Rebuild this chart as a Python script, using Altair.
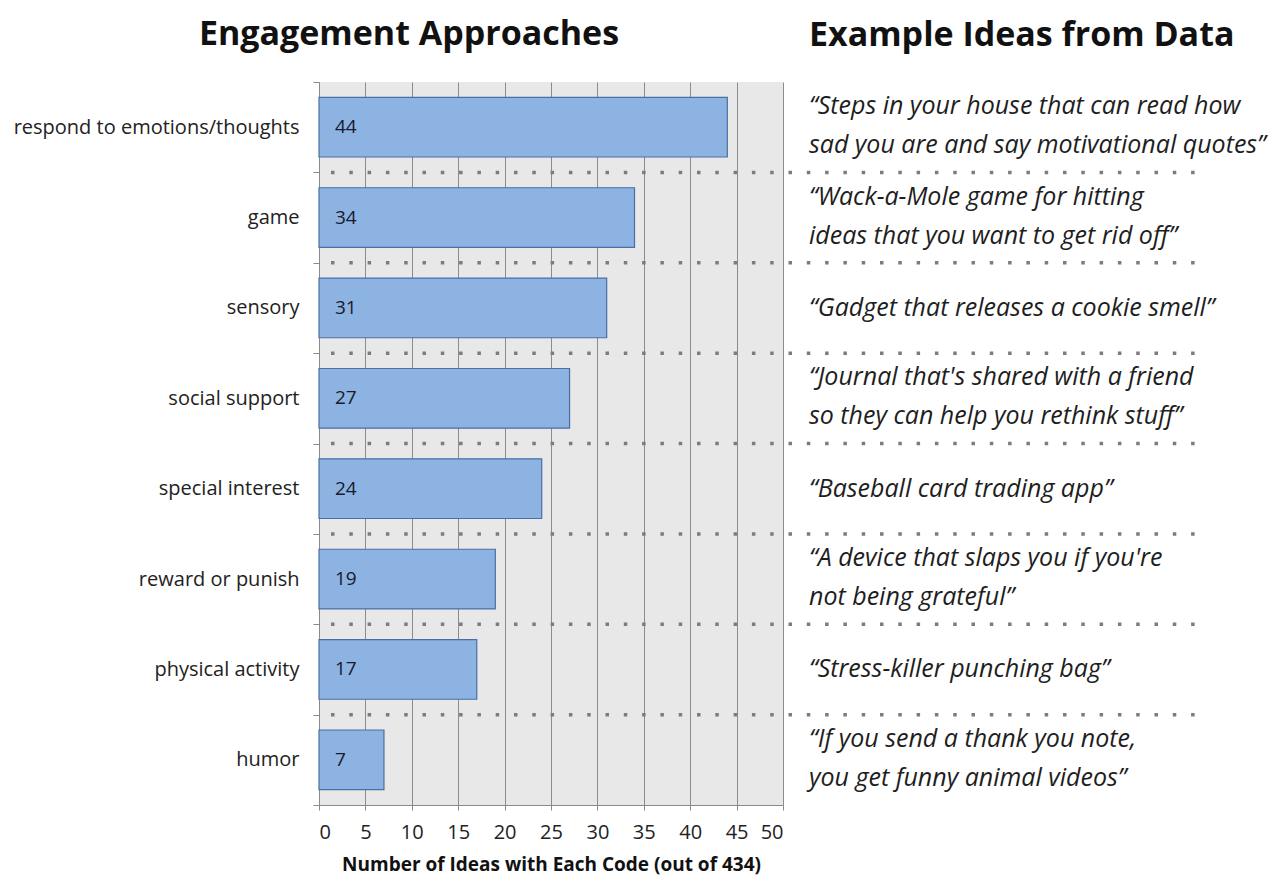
import altair as alt
import pandas as pd

categories = [
    "respond to emotions/thoughts",
    "game",
    "sensory",
    "social support",
    "special interest",
    "reward or punish",
    "physical activity",
    "humor",
]
counts = [44, 34, 31, 27, 24, 19, 17, 7]
quotes = [
    "\u201cSteps in your house that can read how\nsad you are and say motivational quotes\u201d",
    "\u201cWack-a-Mole game for hitting\nideas that you want to get rid off\u201d",
    "\u201cGadget that releases a cookie smell\u201d",
    "\u201cJournal that's shared with a friend\nso they can help you rethink stuff\u201d",
    "\u201cBaseball card trading app\u201d",
    "\u201cA device that slaps you if you're\nnot being grateful\u201d",
    "\u201cStress-killer punching bag\u201d",
    "\u201cIf you send a thank you note,\nyou get funny animal videos\u201d",
]
x_ticks = [0, 5, 10, 15, 20, 25, 30, 35, 40, 45, 50]

FONT = "Open Sans"
df = pd.DataFrame({"cat": categories, "count": counts, "quote": quotes})
df["nlines"] = df["quote"].str.count("\n") + 1
sep = pd.DataFrame({"cat": categories[1:]})

yscale = alt.Scale(domain=categories, paddingInner=0, paddingOuter=0)

y_axis = alt.Axis(
    title=None, labelFontSize=20, labelColor="#222222", labelFont=FONT,
    labelPadding=14, tickSize=6, tickColor="#8a8a8a", domainColor="#8a8a8a",
    tickBand="extent", grid=False, labelLimit=400,
)
x_axis = alt.Axis(
    values=x_ticks, title="Number of Ideas with Each Code (out of 434)",
    titleFontSize=19, titleFontWeight="bold", titleFont=FONT, titleColor="#111111",
    titlePadding=13, labelFontSize=20, labelFont=FONT, labelColor="#222222",
    labelPadding=12, tickSize=5, tickColor="#8a8a8a", domainColor="#8a8a8a",
    grid=True, gridColor="#8c8c8c", gridOpacity=1, gridWidth=1,
)

base = alt.Chart(df)

bars = base.mark_bar(
    height={"band": 0.66}, fill="#8db3e2", stroke="#4a6fa5", strokeWidth=1.2
).encode(
    x=alt.X("count:Q", scale=alt.Scale(domain=[0, 50], nice=False), axis=x_axis),
    y=alt.Y("cat:N", scale=yscale, sort=categories, axis=y_axis),
)

labels = base.mark_text(
    align="left", baseline="middle", dx=16, fontSize=19, font=FONT, color="#1a1a2a"
).encode(
    x=alt.datum(0),
    y=alt.Y("cat:N", scale=yscale, sort=categories),
    text="count:Q",
)

dots = alt.Chart(sep).mark_rule(
    strokeDash=[3.5, 14.8], strokeWidth=3.5, color="#7c7c7c"
).encode(
    y=alt.Y("cat:N", scale=yscale, sort=categories, bandPosition=0),
    x=alt.value(12),
    x2=alt.value(884),
)

left = alt.layer(bars, dots, labels).properties(
    width=464,
    height=723,
    view=alt.ViewBackground(fill="#e8e8e8", stroke=None),
    title=alt.TitleParams(
        "Engagement Approaches", fontSize=34, fontWeight="bold", font=FONT,
        color="#111111", anchor="middle", frame="group", dx=-142, offset=20,
    ),
)

text_style = dict(
    align="left", baseline="middle", fontSize=25, fontStyle="italic", font=FONT,
    color="#1e1e1e", lineBreak="\n", lineHeight=39,
)
q_enc = dict(
    x=alt.value(26),
    y=alt.Y("cat:N", scale=yscale, sort=categories, axis=None),
    text="quote:N",
)
q_one = base.transform_filter("datum.nlines == 1").mark_text(**text_style).encode(**q_enc)
q_two = base.transform_filter("datum.nlines == 2").mark_text(dy=-21, **text_style).encode(**q_enc)

right = alt.layer(q_one, q_two).properties(
    width=420,
    height=723,
    view=alt.ViewBackground(fill=None, stroke=None),
    title=alt.TitleParams(
        "Example Ideas from Data", fontSize=34, fontWeight="bold", font=FONT,
        color="#111111", anchor="start", frame="group", dx=26, offset=29,
    ),
)

chart = alt.hconcat(left, right, spacing=0, bounds="flush").properties(
    padding={"left": 5, "top": 10, "right": 5, "bottom": 4}
)

chart.save("out.html", embed_options={"renderer": "svg", "actions": False})
